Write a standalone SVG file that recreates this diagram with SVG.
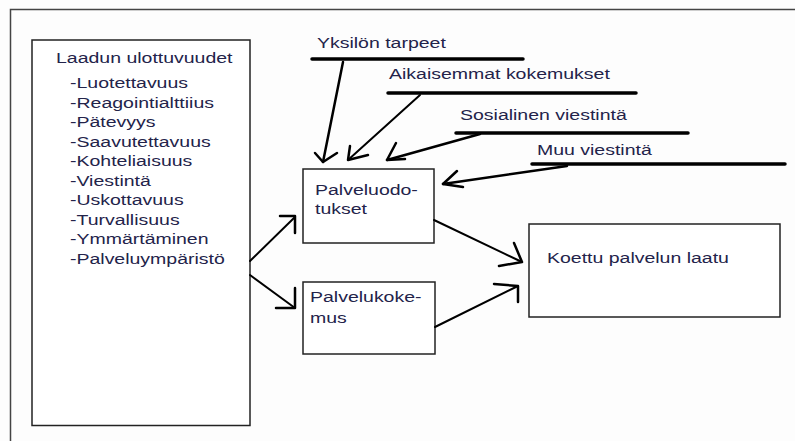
<svg xmlns="http://www.w3.org/2000/svg" width="795" height="441" viewBox="0 0 795 441">
  <style>
    .frame { fill: none; stroke: #444; stroke-width: 1.5; }
    .box { fill: #fff; stroke: #222; stroke-width: 1.5; }
    .lbl { font-family: "Liberation Sans", Arial, sans-serif; font-size: 15px; fill: #23234a; }
    .bar { stroke: #000; stroke-width: 3.5; stroke-linecap: round; fill: none; }
    .arr { stroke: #000; stroke-width: 2.5; stroke-linecap: round; stroke-linejoin: round; fill: none; }
    .arrl { stroke: #000; stroke-width: 2; stroke-linecap: round; stroke-linejoin: round; fill: none; }
  </style>
  <rect x="0" y="0" width="795" height="441" fill="#fdfdfd"/>
  <rect class="frame" x="10.5" y="9.5" width="800" height="450"/>

  <!-- quality dimensions -->
  <g id="ulottuvuudet">
    <rect class="box" x="32" y="40" width="218" height="385.5"/>
    <text class="lbl" transform="translate(56,63) scale(1.3,1)">Laadun ulottuvuudet</text>
    <text class="lbl" transform="translate(70,0) scale(1.3,1)">
      <tspan x="0" y="88.5">-Luotettavuus</tspan>
      <tspan x="0" y="108">-Reagointialttiius</tspan>
      <tspan x="0" y="127.5">-Pätevyys</tspan>
      <tspan x="0" y="147">-Saavutettavuus</tspan>
      <tspan x="0" y="166.5">-Kohteliaisuus</tspan>
      <tspan x="0" y="186">-Viestintä</tspan>
      <tspan x="0" y="205.5">-Uskottavuus</tspan>
      <tspan x="0" y="225">-Turvallisuus</tspan>
      <tspan x="0" y="244.5">-Ymmärtäminen</tspan>
      <tspan x="0" y="264">-Palveluympäristö</tspan>
    </text>
  </g>

  <!-- sources of expectations -->
  <g id="yksilon-tarpeet">
    <text class="lbl" transform="translate(317,48) scale(1.3,1)">Yksilön tarpeet</text>
    <line class="bar" x1="312" y1="59" x2="523" y2="59"/>
  </g>
  <g id="aikaisemmat-kokemukset">
    <text class="lbl" transform="translate(389,79) scale(1.3,1)">Aikaisemmat kokemukset</text>
    <line class="bar" x1="388" y1="93" x2="636" y2="93"/>
  </g>
  <g id="sosialinen-viestinta">
    <text class="lbl" transform="translate(460,120) scale(1.3,1)">Sosialinen viestintä</text>
    <line class="bar" x1="456" y1="133" x2="688" y2="133"/>
  </g>
  <g id="muu-viestinta">
    <text class="lbl" transform="translate(537,155) scale(1.3,1)">Muu viestintä</text>
    <line class="bar" x1="532" y1="164" x2="785" y2="164"/>
  </g>

  <g id="palveluodotukset">
    <rect class="box" x="303" y="169" width="131" height="74"/>
    <text class="lbl" transform="translate(315,195) scale(1.3,1)">Palveluodo-</text>
    <text class="lbl" transform="translate(315,214) scale(1.3,1)">tukset</text>
  </g>

  <g id="palvelukokemus">
    <rect class="box" x="303" y="282" width="132" height="72"/>
    <text class="lbl" transform="translate(310,302) scale(1.3,1)">Palvelukoke-</text>
    <text class="lbl" transform="translate(310,323) scale(1.3,1)">mus</text>
  </g>

  <g id="koettu-laatu">
    <rect class="box" x="529" y="224" width="251" height="93"/>
    <text class="lbl" transform="translate(547,263) scale(1.3,1)">Koettu palvelun laatu</text>
  </g>

  <!-- connectors -->
  <g id="connectors">
    <!-- Yksilön tarpeet -> Palveluodotukset -->
    <polyline class="arr" points="343,62 323,162"/>
    <polyline class="arr" points="315,153 323,162 337,153"/>
    <!-- Aikaisemmat kokemukset -> Palveluodotukset -->
    <polyline class="arrl" points="420,95 348,160"/>
    <polyline class="arr" points="350,146 348,160 368,155"/>
    <!-- Sosialinen viestintä -> Palveluodotukset -->
    <polyline class="arr" points="480,134 387,160"/>
    <polyline class="arr" points="396,143 387,160 405,159"/>
    <!-- Muu viestintä -> Palveluodotukset -->
    <polyline class="arr" points="567,166 443,184"/>
    <polyline class="arr" points="457,171 443,184 463,187"/>
    <!-- Laadun ulottuvuudet -> Palveluodotukset -->
    <polyline class="arrl" points="250,261 295,217"/>
    <polyline class="arr" points="280,216 295,216 295,233"/>
    <!-- Laadun ulottuvuudet -> Palvelukokemus -->
    <polyline class="arrl" points="250,275 295,308"/>
    <polyline class="arr" points="295,288 295,308 276,308"/>
    <!-- Palveluodotukset -> Koettu palvelun laatu -->
    <polyline class="arrl" points="434,220 522,262"/>
    <polyline class="arr" points="514,243 522,262 499,266"/>
    <!-- Palvelukokemus -> Koettu palvelun laatu -->
    <polyline class="arrl" points="435,327 518,286"/>
    <polyline class="arr" points="494,284 518,286 518,302"/>
  </g>
</svg>
